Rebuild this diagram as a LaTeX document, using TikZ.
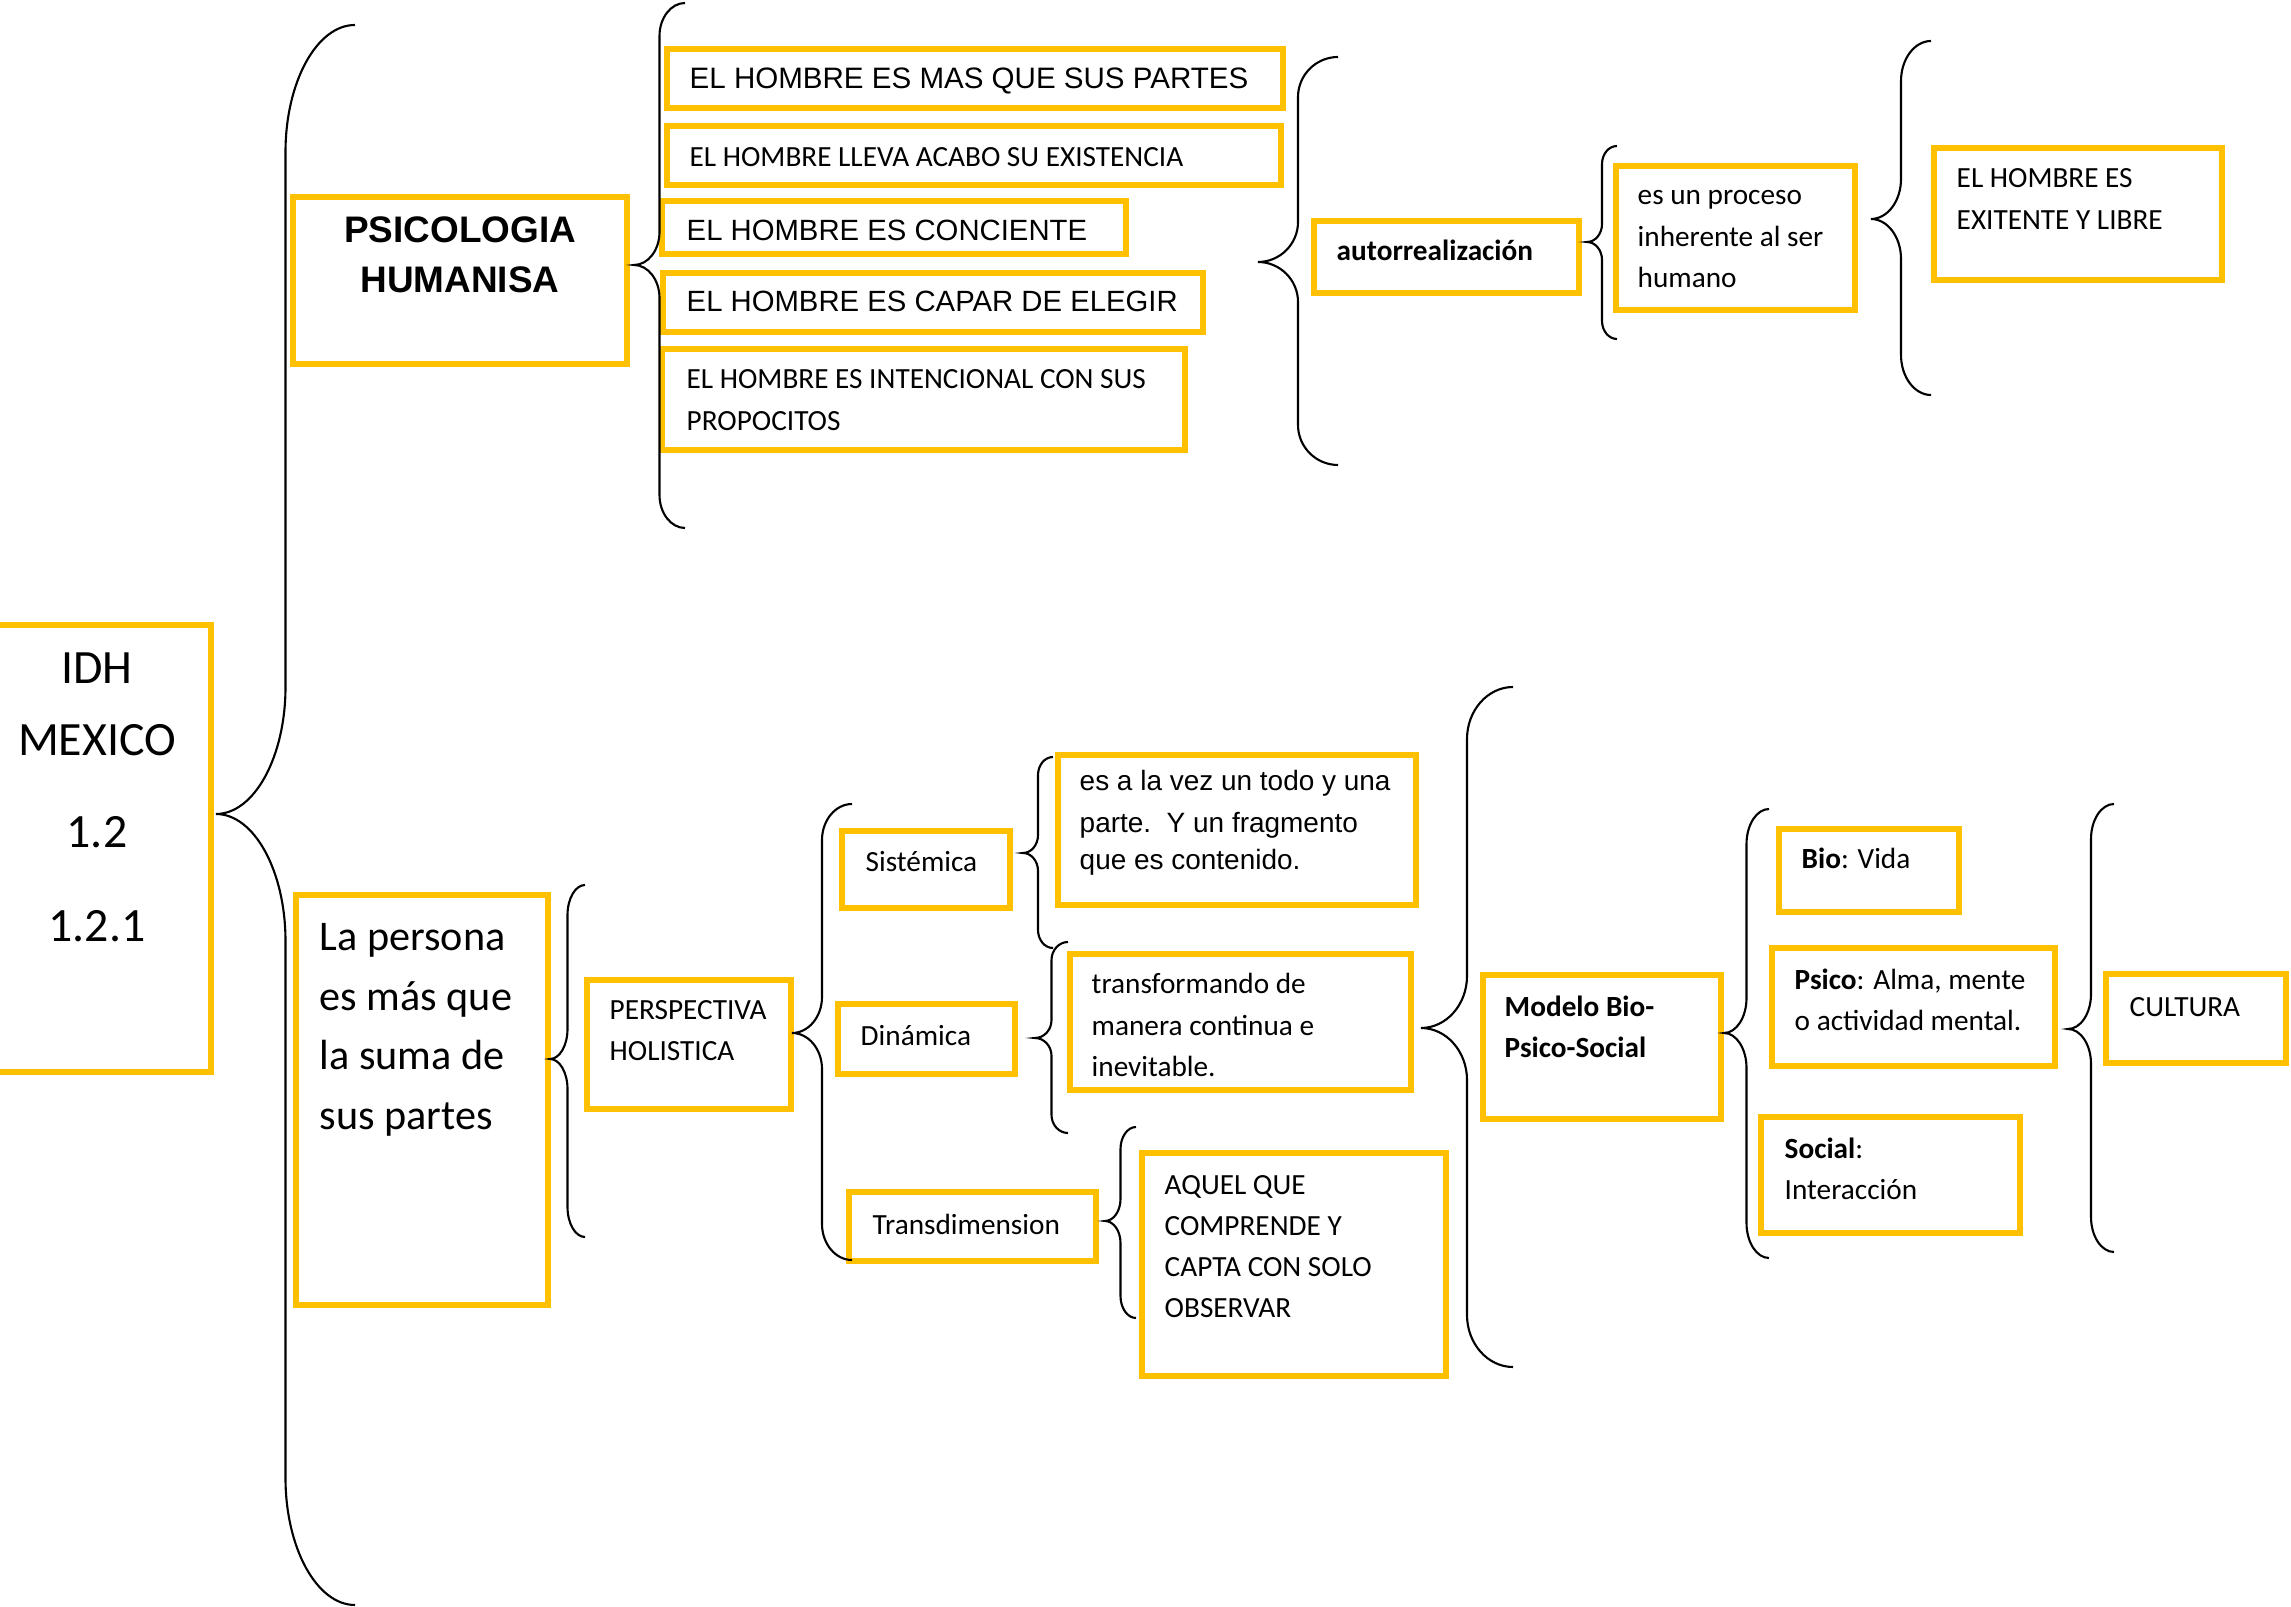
\documentclass[tikz,border=0pt]{standalone}
\usepackage{fontspec}
\setmainfont{Carlito}
\newfontfamily\arialf{Liberation Sans}
\usetikzlibrary{fit}
\definecolor{boxc}{HTML}{FFC000}
\newcommand\tl[1]{\begin{tabular}[t]{@{}l@{}}#1\end{tabular}}
\newcommand\tcn[1]{\begin{tabular}[t]{@{}c@{}}#1\end{tabular}}
% Word-style left brace: end x, tip x, top y, tip y, bottom y, curve height
\newcommand\wbrace[6]{%
  \pgfmathsetmacro\bxv{(#1+#2)/2}%
  \pgfmathsetmacro\bw{(#1-#2)/2}%
  \pgfmathsetmacro\bka{#1-0.55*\bw}%
  \pgfmathsetmacro\bkt{#2+0.55*\bw}%
  \pgfmathsetmacro\byA{#3+#6}%
  \pgfmathsetmacro\byAc{#3+0.45*#6}%
  \pgfmathsetmacro\byB{#4-#6}%
  \pgfmathsetmacro\byBc{#4-0.45*#6}%
  \pgfmathsetmacro\byC{#4+#6}%
  \pgfmathsetmacro\byCc{#4+0.45*#6}%
  \pgfmathsetmacro\byD{#5-#6}%
  \pgfmathsetmacro\byDc{#5-0.45*#6}%
  \draw[brc] (#1,#3) .. controls (\bka,#3) and (\bxv,\byAc) .. (\bxv,\byA)
    -- (\bxv,\byB) .. controls (\bxv,\byBc) and (\bkt,#4) .. (#2,#4)
    .. controls (\bkt,#4) and (\bxv,\byCc) .. (\bxv,\byC)
    -- (\bxv,\byD) .. controls (\bxv,\byDc) and (\bka,#5) .. (#1,#5);%
}
\begin{document}
\begin{tikzpicture}[x=0.01cm,y=-0.01cm,
  bx/.style={draw=boxc, line width=1.85pt, inner sep=0pt},
  brc/.style={draw=black, line width=0.6pt},
  txt/.style={inner sep=0pt, anchor=base west, font=\fontsize{8.32}{11.67}\selectfont},
  arf/.style={inner sep=0pt, anchor=base west, font=\arialf\fontsize{8.33}{11.67}\selectfont}]
\useasboundingbox (0,0) rectangle (2291,1607);
\clip (0,0) rectangle (2291,1607);
\fill[white] (0,0) rectangle (2291,1607);

% ---------- boxes ----------
\node[bx, fit={(-20,625)(211,1072)}] (idh) {};
\node[bx, fit={(293,197)(627,364)}] (psic) {};
\node[bx, fit={(667,49)(1283,108)}] (b1) {};
\node[bx, fit={(667,126)(1281,185)}] (b2) {};
\node[bx, fit={(662,201)(1126,254)}] (b3) {};
\node[bx, fit={(663,273)(1203,332)}] (b4) {};
\node[bx, fit={(662,349)(1185,450)}] (b5) {};
\node[bx, fit={(1314,221)(1579,293)}] (auto) {};
\node[bx, fit={(1616,166)(1855,310)}] (proc) {};
\node[bx, fit={(1934,148)(2222,280)}] (exi) {};
\node[bx, fit={(296,895)(548,1305)}] (pers) {};
\node[bx, fit={(587,980)(791,1109)}] (persp) {};
\node[bx, fit={(842,831)(1010,908)}] (sist) {};
\node[bx, fit={(838,1004)(1015,1074)}] (dina) {};
\node[bx, fit={(849,1192)(1096,1261)}] (trans) {};
\node[bx, fit={(1058,755)(1416,905)}] (vez) {};
\node[bx, fit={(1070,954)(1411,1090)}] (transf) {};
\node[bx, fit={(1142,1153)(1446,1376)}] (aquel) {};
\node[bx, fit={(1483,975)(1721,1119)}] (modelo) {};
\node[bx, fit={(1779,829)(1959,912)}] (bio) {};
\node[bx, fit={(1772,948)(2055,1066)}] (psico) {};
\node[bx, fit={(1761,1117)(2020,1233)}] (social) {};
\node[bx, fit={(2106,974)(2286,1063)}] (cult) {};

% ---------- texts ----------
\node[inner sep=0pt, anchor=base, font=\fontsize{13.6}{20.2}\selectfont] (idhT) at (97,684)
  {\tcn{IDH\\MEXICO\\[6pt]1.2\\[6.5pt]1.2.1}};
\node[inner sep=0pt, anchor=base, font=\arialf\bfseries\fontsize{10.5}{14.2}\selectfont] (psicT) at (460,243)
  {\tcn{PSICOLOGIA\\HUMANISA}};
\node[arf, font=\arialf\fontsize{8.4}{11.67}\selectfont] (b1T) at (689,89) {EL HOMBRE ES MAS QUE SUS PARTES};
\node[txt] (b2T) at (689,167) {EL HOMBRE LLEVA ACABO SU EXISTENCIA};
\node[arf] (b3T) at (686,241) {EL HOMBRE ES CONCIENTE};
\node[arf] (b4T) at (686,312) {EL HOMBRE ES CAPAR DE ELEGIR};
\node[txt] (b5T) at (686,389) {\tl{EL HOMBRE ES INTENCIONAL CON SUS\\PROPOCITOS}};
\node[txt] (autoT) at (1336,261) {\textbf{autorrealización}};
\node[txt] (procT) at (1637,205) {\tl{es un proceso\\inherente al ser\\humano}};
\node[txt] (exiT) at (1956,188) {\tl{EL HOMBRE ES\\EXITENTE Y LIBRE}};
\node[inner sep=0pt, anchor=base west, font=\fontsize{12}{16.9}\selectfont] (persT) at (319,951)
  {\tl{La persona\\es más que\\la suma de\\sus partes}};
\node[txt] (perspT) at (609,1019) {\tl{PERSPECTIVA\\HOLISTICA}};
\node[txt] (sistT) at (865,872) {Sistémica};
\node[txt] (dinaT) at (860,1045) {Dinámica};
\node[txt] (transT) at (872,1234) {Transdimension};
\node[arf, font=\arialf\fontsize{7.95}{11.67}\selectfont] (vezT) at (1079,791)
  {\tl{es a la vez un todo y una\\parte.\ \ Y un fragmento\\[-1.1pt]que es contenido.}};
\node[txt] (transfT) at (1091,994) {\tl{transformando de\\manera continua e\\inevitable.}};
\node[txt] (aquelT) at (1164,1194) {\tl{AQUEL QUE\\COMPRENDE Y\\CAPTA CON SOLO\\OBSERVAR}};
\node[txt] (modeloT) at (1504,1016) {\tl{\textbf{Modelo Bio-}\\\textbf{Psico-Social}}};
\node[txt] (bioT) at (1801,869) {\textbf{Bio}: Vida};
\node[txt] (psicoT) at (1794,989) {\tl{\textbf{Psico}: Alma, mente\\o actividad mental.}};
\node[txt] (socialT) at (1784,1158) {\tl{\textbf{Social}:\\Interacción}};
\node[txt] (cultT) at (2129,1016) {CULTURA};

% ---------- braces ----------
\wbrace{355}{216}{25}{814}{1605}{127}
\wbrace{685}{634}{3}{265}{528}{33}
\wbrace{1338}{1258}{57}{262}{465}{40}
\wbrace{1617}{1587}{146}{242}{339}{18}
\wbrace{1931}{1871}{41}{219}{395}{40}
\wbrace{585}{550}{885}{1059}{1237}{30}
\wbrace{852}{792}{804}{1033}{1260}{36}
\wbrace{1053}{1023}{757}{853}{948}{18}
\wbrace{1068}{1035}{942}{1038}{1133}{18}
\wbrace{1136}{1105}{1127}{1221}{1318}{22}
\wbrace{1513}{1421}{687}{1028}{1367}{52}
\wbrace{1769}{1724}{809}{1033}{1258}{35}
\wbrace{2114}{2068}{804}{1029}{1252}{35}
\end{tikzpicture}
\end{document}
